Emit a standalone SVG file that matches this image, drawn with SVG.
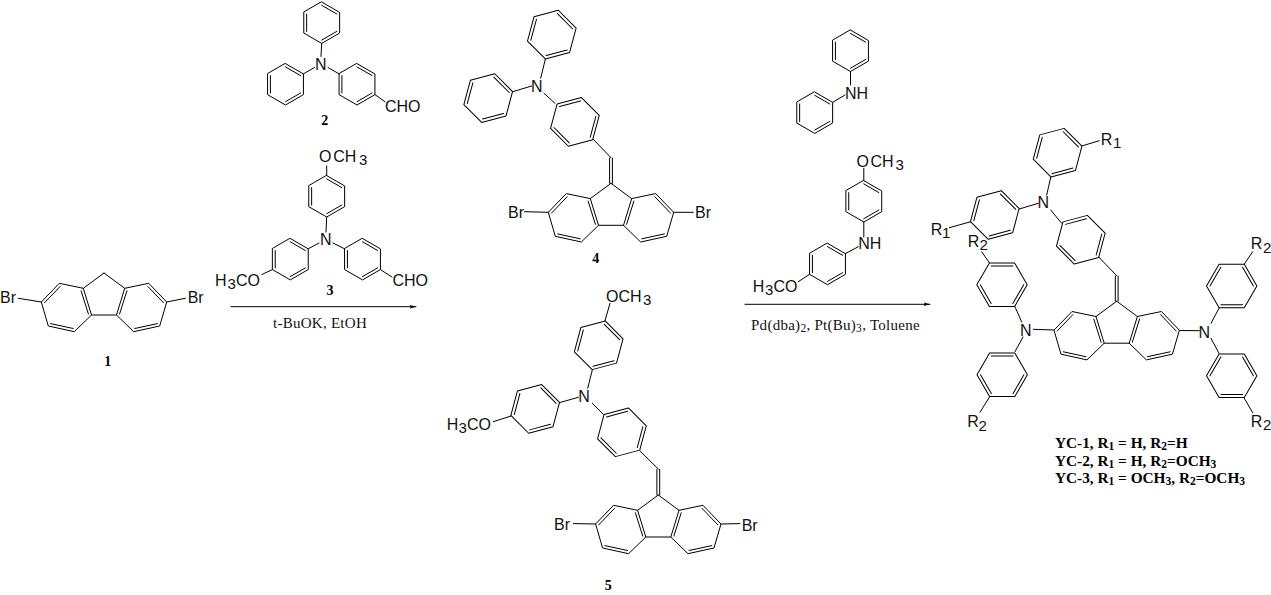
<svg xmlns="http://www.w3.org/2000/svg" xmlns:xlink="http://www.w3.org/1999/xlink" width="1271" height="595" viewBox="0 0 1271 595">
<style>
.b{fill:none;stroke:#000;stroke-width:1;stroke-linecap:round;stroke-linejoin:round}
.t{font-family:"Liberation Sans",Arial,sans-serif;font-size:16px;fill:#111}
.s{font-size:15px}
.n{font-family:"Liberation Serif","Times New Roman",serif;font-size:14px;font-weight:bold;text-anchor:middle;fill:#000}
.c{font-family:"Liberation Serif","Times New Roman",serif;font-size:15px;letter-spacing:.27px;fill:#111}
.y{font-family:"Liberation Serif","Times New Roman",serif;font-size:15.3px;font-weight:bold;fill:#000}
</style>
<defs>
<g id="rs" class="b"><path d="M0,-20.7 17.93,-10.35 17.93,10.35 0,20.7 -17.93,10.35 -17.93,-10.35Z"/><path d="M0,-17.4 15.07,-8.7M15.07,8.7 0,17.4M-15.07,8.7V-8.7"/></g>
<g id="rl" class="b"><path d="M0,-25.2 21.82,-12.6 21.82,12.6 0,25.2 -21.82,12.6 -21.82,-12.6Z"/><path d="M0,-21.7 18.79,-10.85M18.79,10.85 0,21.7M-18.79,10.85V-10.85"/></g>
<g id="fl" class="b"><path d="M0,0-20.7,15.3-44.7,10.3-62.7,29-55.7,53-29.7,58.7-12.5,42-20.7,15.3M-12.5,42H12.5L20.7,15.3 0,0M20.7,15.3 44.7,10.3 62.7,29 55.7,53 29.7,58.7 12.5,42"/><path d="M-43.8,13.4-59.5,29.8M-53.4,50.6-30.75,55.5M-22.9,17.8-15.6,41M43.8,13.4 59.5,29.8M53.4,50.6 30.75,55.5M22.9,17.8 15.6,41"/></g>
<marker id="ah" markerUnits="userSpaceOnUse" markerWidth="8" markerHeight="6" refX="6.5" refY="2.5" orient="auto"><path d="M0,0.6 6.5,2.5 0,4.4 1.5,2.5Z" fill="#000"/></marker>
</defs>

<g id="compound-1">
<use xlink:href="#fl" href="#fl" transform="translate(104,273)"/>
<path class="b" d="M18.3,298.3 41.3,302M166.7,302 185.3,298.3"/>
<text class="t" x="0" y="302.7">Br</text><text class="t" x="187.7" y="302.7">Br</text>
<text class="n" x="107.7" y="366">1</text>
</g>

<g id="compound-2">
<use xlink:href="#rs" href="#rs" transform="translate(321.7,22.7)"/>
<use xlink:href="#rs" href="#rs" transform="translate(285.5,84.3)"/>
<use xlink:href="#rs" href="#rs" transform="translate(357,84.3)"/>
<path class="b" d="M321.7,43.4 321,56.5M303.4,73.9 314.5,67.5M339.1,73.9 328,67.5M374.9,94.6 385,101.7"/>
<text class="t" x="315" y="70">N</text>
<text class="t" x="385" y="111.7">CHO</text>
<text class="n" x="324.7" y="125">2</text>
</g>

<g id="compound-3">
<use xlink:href="#rs" href="#rs" transform="translate(326.7,196.3)"/>
<use xlink:href="#rs" href="#rs" transform="translate(290.3,259.2)"/>
<use xlink:href="#rs" href="#rs" transform="translate(362.5,259.2)"/>
<path class="b" d="M326.7,217 326,232M308.2,248.8 319,243M344.6,248.8 333,243M272.4,269.6 262,274.5M380.4,269.6 392,277M326.7,175.6V166"/>
<text class="t" x="320" y="245">N</text>
<text class="t"><tspan x="319" y="161.7">O</tspan><tspan x="333.3">CH</tspan><tspan class="s" x="359" dy="3">3</tspan></text>
<text class="t"><tspan x="215" y="286">H</tspan><tspan class="s" x="227.5" dy="3">3</tspan><tspan x="236" dy="-3">CO</tspan></text>
<text class="t" x="392.5" y="286">CHO</text>
<text class="n" x="330" y="295">3</text>
</g>

<g id="compound-4">
<use xlink:href="#fl" href="#fl" transform="translate(611,183.3)"/>
<use xlink:href="#rl" href="#rl" transform="translate(574.9,121.9) rotate(75)"/>
<use xlink:href="#rl" href="#rl" transform="translate(551.8,34.6) rotate(15)"/>
<use xlink:href="#rl" href="#rl" transform="translate(488.2,98.1) rotate(15)"/>
<path class="b" d="M545.3,59.3 540.7,78.3M512.7,91.7 531.7,86M555,103.3 544,93.3M593.3,139.3 611,157.7M609.6,158V183.3M612.4,158V183.3M524.5,211.7 548.3,212.3M673.7,212.3 693.3,212.3"/>
<text class="t" x="531" y="91.7">N</text>
<text class="t" x="508" y="218.3">Br</text><text class="t" x="695" y="218.3">Br</text>
<text class="n" x="595.7" y="263">4</text>
</g>

<g id="compound-5">
<use xlink:href="#fl" href="#fl" transform="translate(658.3,495)"/>
<use xlink:href="#rl" href="#rl" transform="translate(621.9,432.3) rotate(75)"/>
<use xlink:href="#rl" href="#rl" transform="translate(598.7,345.3) rotate(15)"/>
<use xlink:href="#rl" href="#rl" transform="translate(535.2,408.9) rotate(15)"/>
<path class="b" d="M592.3,370 587.7,388.3M559.3,402.7 578.3,397.3M603.3,414.3 592.3,403.3M605,320.7 610,303.3M511,416 493.3,421.7M640,451 658.3,469M656.9,469.3V495M659.7,469.3V495M573.3,523.6 595.6,524M721,524 740,523.6"/>
<text class="t" x="578.3" y="401.7">N</text>
<text class="t"><tspan x="606" y="301.7">O</tspan><tspan x="618.5">CH</tspan><tspan class="s" x="643" dy="3">3</tspan></text>
<text class="t"><tspan x="446.7" y="430">H</tspan><tspan class="s" x="458.5" dy="3">3</tspan><tspan x="467" dy="-3">CO</tspan></text>
<text class="t" x="554" y="530">Br</text><text class="t" x="741.7" y="530.5">Br</text>
<text class="n" x="608.3" y="590">5</text>
</g>

<g id="diphenylamine">
<use xlink:href="#rs" href="#rs" transform="translate(850.5,50.8)"/>
<use xlink:href="#rs" href="#rs" transform="translate(814.7,112.7)"/>
<path class="b" d="M850.5,71.5V85M832.6,102.3 845,95"/>
<text class="t" x="845" y="99">NH</text>
</g>

<g id="dimethoxydiphenylamine">
<use xlink:href="#rs" href="#rs" transform="translate(863.8,201.3)"/>
<use xlink:href="#rs" href="#rs" transform="translate(827.5,264)"/>
<path class="b" d="M863.8,180.6V168.3M863.8,222V237M845.4,253.6 858.3,246.7M809.6,274.3 798.3,281.7"/>
<text class="t" x="858.3" y="249">NH</text>
<text class="t"><tspan x="856.5" y="167.3">O</tspan><tspan x="870.5">CH</tspan><tspan class="s" x="895.5" dy="3">3</tspan></text>
<text class="t"><tspan x="752.7" y="291.7">H</tspan><tspan class="s" x="765" dy="3">3</tspan><tspan x="773.5" dy="-3">CO</tspan></text>
</g>

<g id="product-YC">
<use xlink:href="#fl" href="#fl" transform="translate(1116.7,301.2)"/>
<use xlink:href="#rl" href="#rl" transform="translate(1080.8,239.7) rotate(75)"/>
<use xlink:href="#rl" href="#rl" transform="translate(1057.6,152.7) rotate(15)"/>
<use xlink:href="#rl" href="#rl" transform="translate(994.8,215) rotate(15)"/>
<use xlink:href="#rl" href="#rl" transform="translate(1002,284.7) rotate(-30)"/>
<use xlink:href="#rl" href="#rl" transform="translate(1002.2,374.8) rotate(-30)"/>
<use xlink:href="#rl" href="#rl" transform="translate(1231.7,286) rotate(30)"/>
<use xlink:href="#rl" href="#rl" transform="translate(1231.7,375.7) rotate(30)"/>
<path class="b" d="M1081.7,146 1099.3,140.7M1050.7,177.3 1046.7,195M1019.3,209 1038.3,203.3M1061.7,223.3 1050.7,210M970.7,221.7 949.3,227.7M1099,257.3 1116.7,275.7M1115.3,276V301.2M1118.1,276V301.2M1033.3,329.3 1054,330M989.3,262.7 981.7,251.7M1015,306.7 1021.7,322M1023,337 1015,351.7M989.3,397.3 980,412.3M1179.4,330.5 1199.3,330.7M1244.3,264 1252.7,251.7M1219,308.3 1211,323.3M1211,338.3 1219,353.3M1244.3,398.3 1252.7,412.7"/>
<text class="t" x="1037.5" y="208.3">N</text>
<text class="t" x="1020" y="336">N</text>
<text class="t" x="1198.5" y="337.7">N</text>
<text class="t"><tspan x="1100.7" y="145">R</tspan><tspan class="s" x="1113" dy="3.3">1</tspan></text>
<text class="t"><tspan x="930.7" y="235">R</tspan><tspan class="s" x="942" dy="3.3">1</tspan></text>
<text class="t"><tspan x="967.7" y="246.7">R</tspan><tspan class="s" x="979.5" dy="3.3">2</tspan></text>
<text class="t"><tspan x="967.3" y="427.3">R</tspan><tspan class="s" x="978.5" dy="3.3">2</tspan></text>
<text class="t"><tspan x="1250.7" y="249.3">R</tspan><tspan class="s" x="1263" dy="3.3">2</tspan></text>
<text class="t"><tspan x="1250.7" y="426.7">R</tspan><tspan class="s" x="1263" dy="3.3">2</tspan></text>
<text class="y" x="1055" y="447.7">YC-1, R<tspan font-size="11.5" dy="2">1</tspan><tspan dy="-2"> = H, R</tspan><tspan font-size="11.5" dy="2">2</tspan><tspan dy="-2">=H</tspan></text>
<text class="y" x="1055" y="466">YC-2, R<tspan font-size="11.5" dy="2">1</tspan><tspan dy="-2"> = H, R</tspan><tspan font-size="11.5" dy="2">2</tspan><tspan dy="-2">=OCH</tspan><tspan font-size="11.5" dy="2">3</tspan></text>
<text class="y" x="1055" y="483.3">YC-3, R<tspan font-size="11.5" dy="2">1</tspan><tspan dy="-2"> = OCH</tspan><tspan font-size="11.5" dy="2">3</tspan><tspan dy="-2">, R</tspan><tspan font-size="11.5" dy="2">2</tspan><tspan dy="-2">=OCH</tspan><tspan font-size="11.5" dy="2">3</tspan></text>
</g>

<g id="connectors">
<path class="b" marker-end="url(#ah)" d="M231,306.7H416"/>
<path class="b" marker-end="url(#ah)" d="M745,304.3H930"/>
</g>
<g id="conditions">
<text class="c" x="273" y="327.7" textLength="94" lengthAdjust="spacing">t-BuOK, EtOH</text>
<text class="c" x="751" y="330">Pd(dba)<tspan font-size="11.5" dy="2">2</tspan><tspan dy="-2">, Pt(Bu)</tspan><tspan font-size="11.5" dy="2">3</tspan><tspan dy="-2">, Toluene</tspan></text>
</g>
</svg>
